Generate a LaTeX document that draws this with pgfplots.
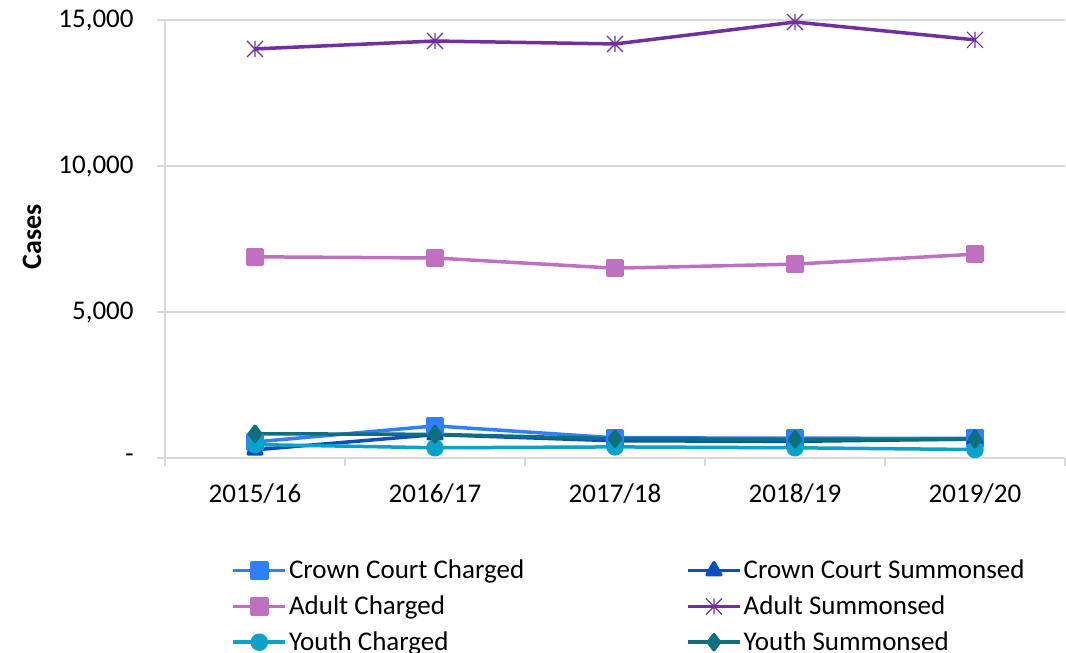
\documentclass[border=0pt]{standalone}
\usepackage{pgfplots}
\pgfplotsset{compat=1.18}
\usepackage{fontspec}
\setmainfont{Carlito}
\definecolor{ccc}{HTML}{2F80FF}
\definecolor{ccs}{HTML}{0B4EC0}
\definecolor{ac}{HTML}{C070C0}
\definecolor{as}{HTML}{7030A0}
\definecolor{yc}{HTML}{0AA2C8}
\definecolor{ys}{HTML}{0E6F7D}
\definecolor{gridgray}{HTML}{D9D9D9}
\pgfdeclareplotmark{xstar}{%
  \pgfpathmoveto{\pgfqpoint{-\pgfplotmarksize}{-\pgfplotmarksize}}%
  \pgfpathlineto{\pgfqpoint{\pgfplotmarksize}{\pgfplotmarksize}}%
  \pgfpathmoveto{\pgfqpoint{-\pgfplotmarksize}{\pgfplotmarksize}}%
  \pgfpathlineto{\pgfqpoint{\pgfplotmarksize}{-\pgfplotmarksize}}%
  \pgfpathmoveto{\pgfqpoint{0pt}{-\pgfplotmarksize}}%
  \pgfpathlineto{\pgfqpoint{0pt}{\pgfplotmarksize}}%
  \pgfusepathqstroke}
\begin{document}
\begin{tikzpicture}
\begin{axis}[
  name=ax,
  scale only axis,
  width=450pt, height=219pt,
  xmin=0.5, xmax=5.5, ymin=0, ymax=15000,
  scaled y ticks=false,
  axis lines*=left,
  axis line style={gridgray, line width=0.8pt},
  xtick={1,2,3,4,5},
  xticklabels={2015/16,2016/17,2017/18,2018/19,2019/20},
  minor xtick={0.5,1.5,2.5,3.5,4.5,5.5},
  major x tick style={draw=none},
  minor x tick style={gridgray, line width=0.8pt},
  minor tick length=4pt,
  ytick={0,5000,10000,15000},
  yticklabels={-,{5,000},{10,000},{15,000}},
  major y tick style={gridgray, line width=0.8pt},
  major tick length=4pt,
  tick align=outside,
  ymajorgrids,
  grid style={gridgray, line width=0.8pt},
  /pgf/number format/assume math mode=true,
  tick label style={font=\fontsize{13.5}{15}\selectfont, black},
  yticklabel style={anchor=east, xshift=-7.5pt},
  xticklabel style={yshift=-4.5pt},
  ylabel={\bfseries Cases},
  every axis y label/.style={at={(rel axis cs:0,0.505)}, xshift=-66.5pt, rotate=90, anchor=center, font=\fontsize{14}{16}\selectfont},
  legend columns=2,
  legend cell align=left,
  legend style={at={(rel axis cs:0.072,-0.224)}, anchor=north west, draw=none, fill=none, inner sep=0pt,
    font=\fontsize{13.5}{15}\selectfont, row sep=5pt,
    nodes={inner sep=1pt},
    /tikz/column 2/.style={column sep=80pt}},
  legend image code/.code={\draw[mark repeat=2,mark phase=2] plot coordinates {(0pt,0pt) (13pt,0pt) (26pt,0pt)};},
  line width=1.75pt,
  every axis plot/.append style={line join=round},
]
\addplot[color=ccc, mark=square*, mark size=3.75pt] coordinates {(1,550) (2,1100) (3,690) (4,680) (5,670)};
\addlegendentry{Crown Court Charged}
\addplot[color=ccs, mark=triangle*, mark size=4pt] coordinates {(1,280) (2,800) (3,590) (4,570) (5,650)};
\addlegendentry{Crown Court Summonsed}
\addplot[color=ac, mark=square*, mark size=3.75pt] coordinates {(1,6890) (2,6850) (3,6500) (4,6640) (5,6980)};
\addlegendentry{Adult Charged}
\addplot[color=as, mark=xstar, mark size=4pt, mark options={line width=0.6pt}] coordinates {(1,14010) (2,14280) (3,14180) (4,14930) (5,14320)};
\addlegendentry{Adult Summonsed}
\addplot[color=yc, mark=*, mark size=3.5pt] coordinates {(1,460) (2,350) (3,380) (4,350) (5,290)};
\addlegendentry{Youth Charged}
\addplot[color=ys, mark=diamond*, mark size=3.75pt] coordinates {(1,830) (2,810) (3,660) (4,640) (5,640)};
\addlegendentry{Youth Summonsed}
\end{axis}
\pgfresetboundingbox
\useasboundingbox ([xshift=-82.5pt,yshift=-97.5pt]ax.south west) rectangle ([xshift=0.5pt,yshift=10pt]ax.north east);
\end{tikzpicture}
\end{document}
